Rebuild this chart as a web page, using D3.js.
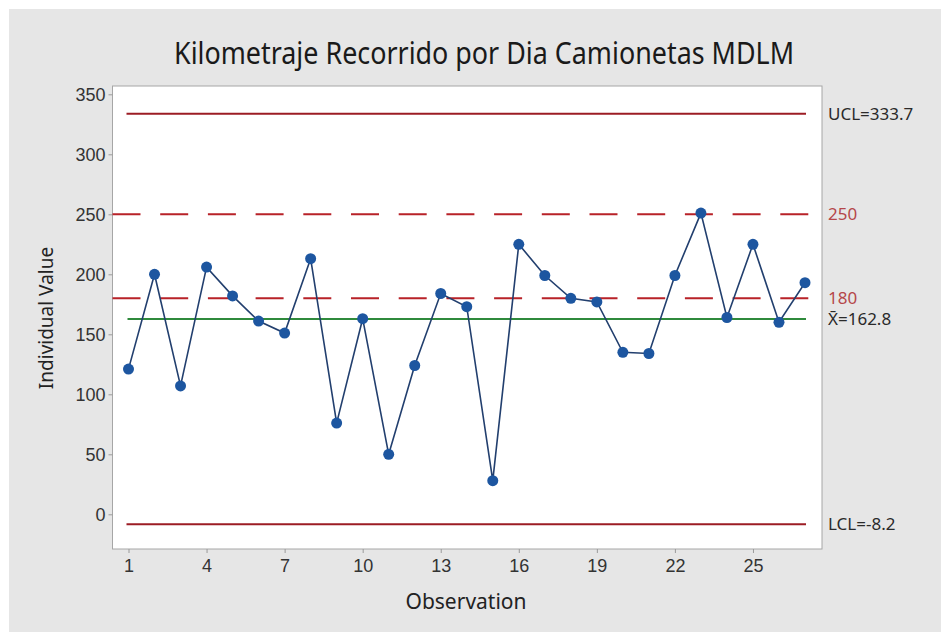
<!DOCTYPE html>
<html>
<head>
<meta charset="utf-8">
<script src="https://cdn.jsdelivr.net/npm/d3@7"></script>
<style>
  html, body { margin: 0; padding: 0; background: #fff; }
  svg { display: block; font-family: "Noto Sans", "Open Sans", sans-serif; }
  .tick text { fill: #333; font-size: 18px; }
  .tick line, .domain { stroke: #9a9a9a; }
</style>
</head>
<body>
<svg class="chart"></svg>
<script>
const title = 'Kilometraje Recorrido por Dia Camionetas MDLM'
const observations = d3.range(1, 28)
const values = [121, 200, 107, 206, 182, 161, 151, 213, 76, 163, 50, 124, 184, 173,
  28, 225, 199, 180, 177, 135, 134, 199, 251, 164, 225, 160, 193]
const xTicks = [1, 4, 7, 10, 13, 16, 19, 22, 25]
const yTicks = [0, 50, 100, 150, 200, 250, 300, 350]
const controlLimits = [
  { name: 'UCL', value: 333.7, label: 'UCL=333.7' },
  { name: 'LCL', value: -8.2, label: 'LCL=-8.2' }
]
const centerLine = { value: 162.8, label: 'X\u0304=162.8' }
const specLines = [
  { value: 250, label: '250' },
  { value: 180, label: '180' }
]

const width = 941
const height = 632
const plot = { left: 112.5, right: 822, top: 86, bottom: 549 }

const x = d3.scaleLinear().domain([1, 27]).range([128.5, 805])
const y = d3.scaleLinear().domain([0, 350]).range([514.3, 94.3])

const svg = d3.select('.chart').attr('width', width).attr('height', height)

// grey panel
svg.append('rect')
  .attr('x', 9).attr('y', 9)
  .attr('width', width - 9).attr('height', height - 9)
  .attr('fill', '#e6e6e6')

svg.append('rect')
  .attr('x', plot.left).attr('y', plot.top)
  .attr('width', plot.right - plot.left).attr('height', plot.bottom - plot.top)
  .attr('fill', '#fff')
  .attr('stroke', '#a6a6a6')

svg.append('text')
  .attr('x', 484).attr('y', 64)
  .attr('text-anchor', 'middle')
  .attr('font-size', 30)
  .attr('textLength', 620)
  .attr('lengthAdjust', 'spacingAndGlyphs')
  .attr('fill', '#1a1a1a')
  .text(title)

// axes
svg.append('g')
  .attr('transform', `translate(${plot.left},0)`)
  .call(d3.axisLeft(y).tickValues(yTicks).tickSize(4).tickPadding(3).tickSizeOuter(0))
  .call(g => g.select('.domain').remove())

svg.append('g')
  .attr('transform', `translate(0,${plot.bottom})`)
  .call(d3.axisBottom(x).tickValues(xTicks).tickSize(4).tickPadding(6).tickSizeOuter(0))
  .call(g => g.select('.domain').remove())

svg.append('text')
  .attr('transform', `translate(53,318) rotate(-90)`)
  .attr('text-anchor', 'middle')
  .attr('font-size', 19)
  .attr('fill', '#222')
  .text('Individual Value')

svg.append('text')
  .attr('x', 466).attr('y', 609)
  .attr('text-anchor', 'middle')
  .attr('font-size', 21)
  .attr('fill', '#222')
  .text('Observation')

// spec (dashed) lines across the full plot
svg.append('g').selectAll('line')
  .data(specLines)
  .join('line')
  .attr('x1', plot.left).attr('x2', plot.right - 8)
  .attr('y1', d => y(d.value)).attr('y2', d => y(d.value))
  .attr('stroke', '#b82228')
  .attr('stroke-width', 2)
  .attr('stroke-dasharray', '28,19.7')

// control limits and center line
svg.append('g').selectAll('line')
  .data(controlLimits)
  .join('line')
  .attr('x1', x(1) - 2).attr('x2', x(27) + 1)
  .attr('y1', d => y(d.value)).attr('y2', d => y(d.value))
  .attr('stroke', '#9c1c24')
  .attr('stroke-width', 2)

svg.append('line')
  .attr('x1', x(1) - 1).attr('x2', x(27) + 1)
  .attr('y1', y(centerLine.value)).attr('y2', y(centerLine.value))
  .attr('stroke', '#2f8a3c')
  .attr('stroke-width', 2)

// data
const line = d3.line().x((d, i) => x(observations[i])).y(d => y(d))
svg.append('path')
  .datum(values)
  .attr('d', line)
  .attr('fill', 'none')
  .attr('stroke', '#223f6e')
  .attr('stroke-width', 1.6)

svg.append('g').selectAll('path')
  .data(values)
  .join('path')
  .attr('transform', (d, i) => `translate(${x(observations[i])},${y(d)})`)
  .attr('d', d3.symbol().type(d3.symbolCircle).size(95))
  .attr('fill', '#1d56a0')

// right-hand labels
const rightLabels = [
  ...controlLimits.map(d => ({ value: d.value, label: d.label, color: '#2a2a2a' })),
  ...specLines.map(d => ({ value: d.value, label: d.label, color: '#b5474a' })),
  { value: centerLine.value, label: centerLine.label, color: '#2a2a2a' }
]
svg.append('g').selectAll('text')
  .data(rightLabels)
  .join('text')
  .attr('x', 828)
  .attr('y', d => y(d.value))
  .attr('dy', '0.36em')
  .attr('font-size', 17)
  .attr('fill', d => d.color)
  .text(d => d.label)
</script>
</body>
</html>
